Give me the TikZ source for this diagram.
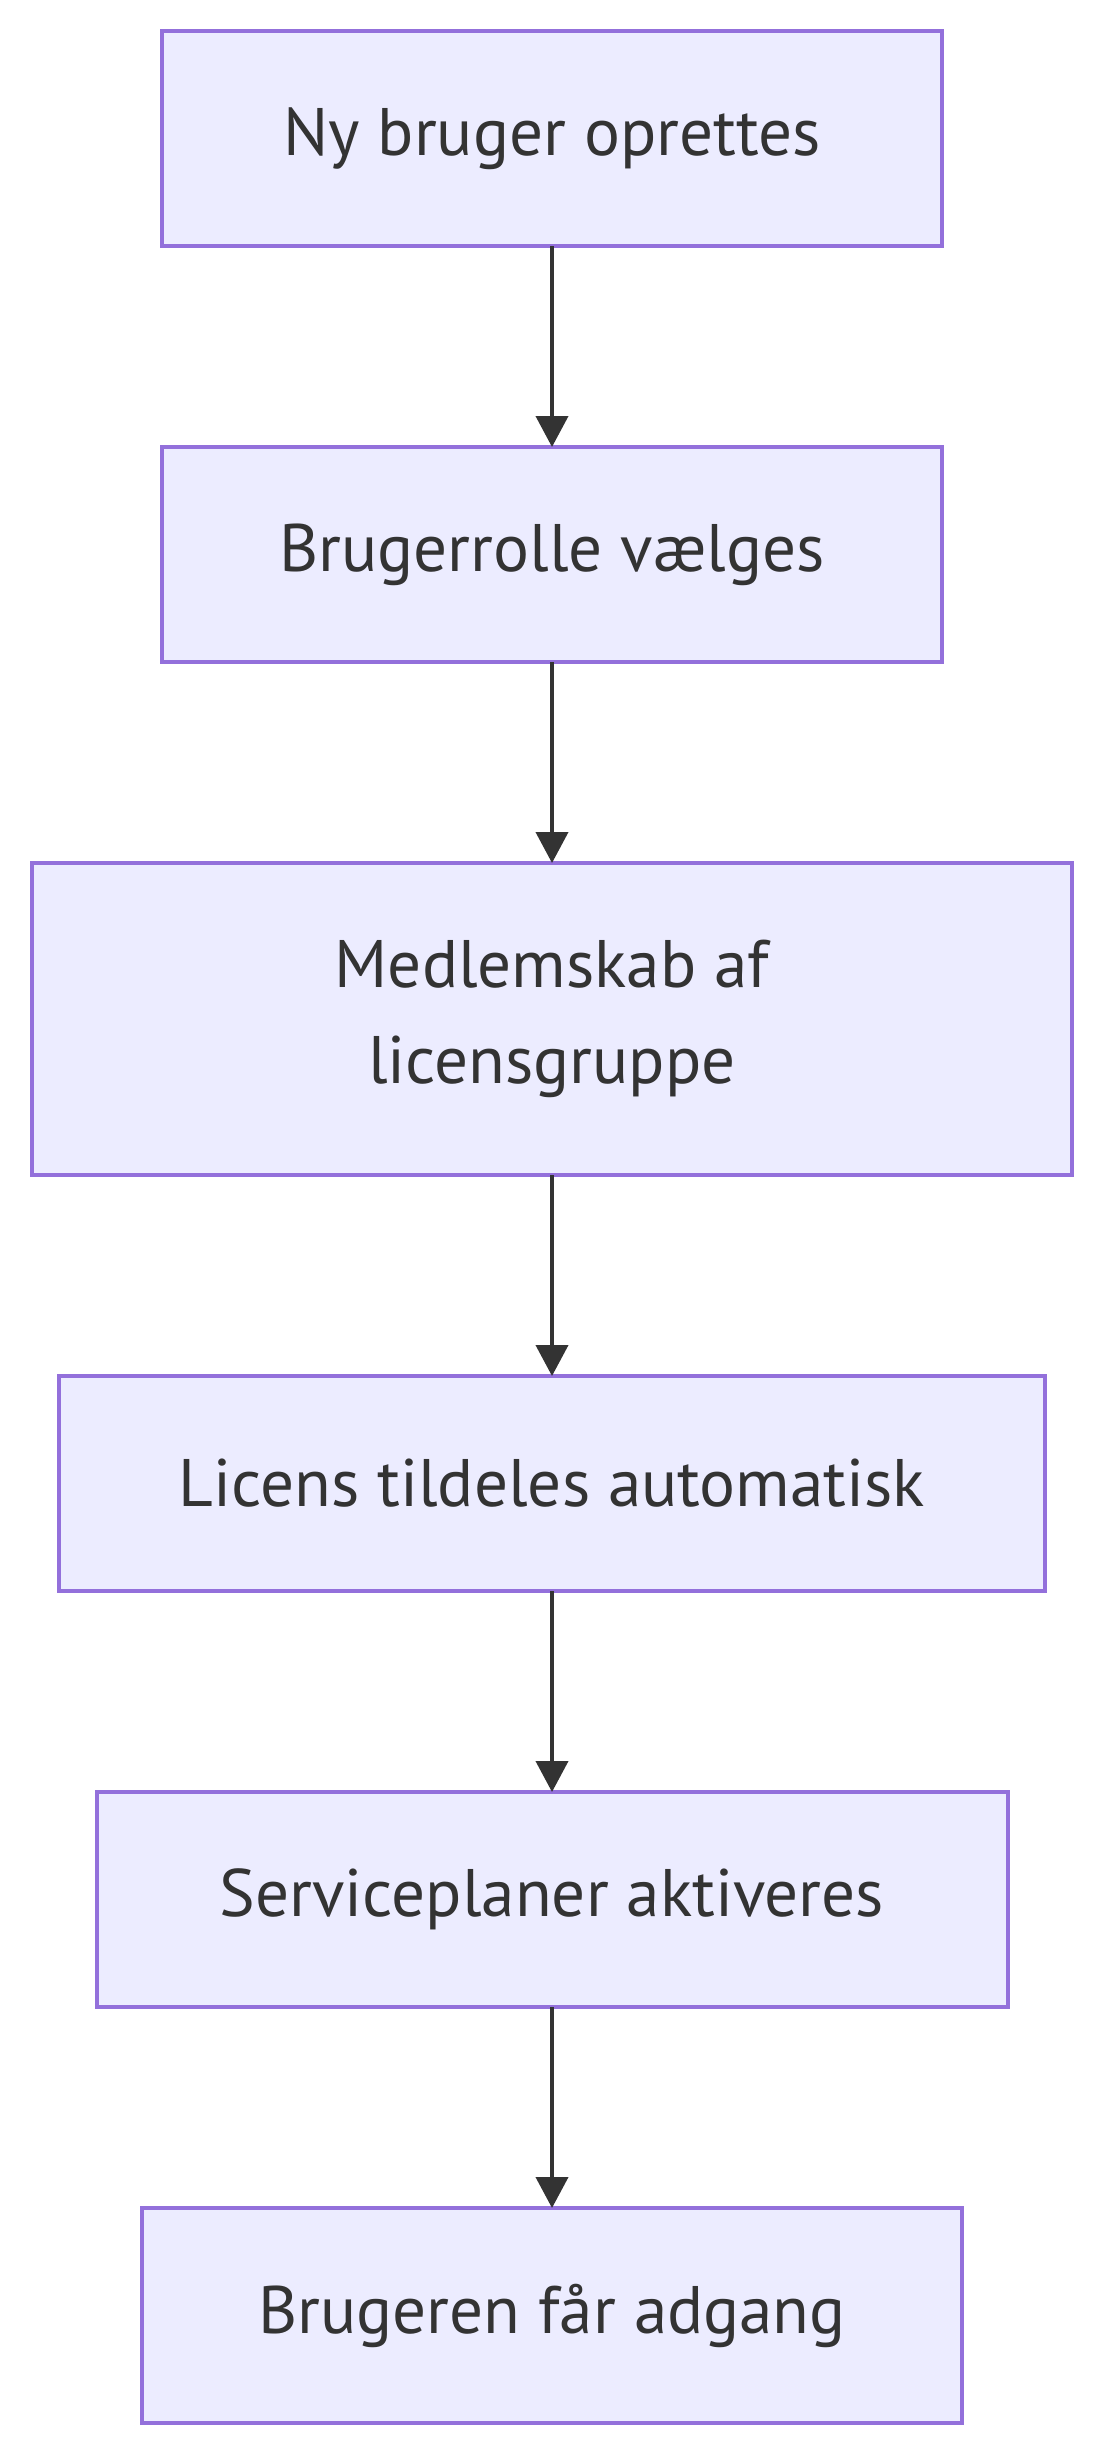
\documentclass[tikz,border=0pt]{standalone}
\usepackage{fontspec}
\setmainfont{PT Sans}
\usepackage{xcolor}
\usetikzlibrary{arrows.meta,positioning}
\definecolor{boxfill}{HTML}{ECECFF}
\definecolor{boxline}{HTML}{9370DB}
\definecolor{inkgray}{HTML}{333333}
\tikzset{
	stepbox/.style={
			draw=boxline, fill=boxfill, line width=1pt,
			text=inkgray, align=center, inner sep=0pt, outer sep=0pt,
			minimum height=53.75pt,
			font=\fontsize{16.8}{24}\selectfont
		},
	flow/.style={
			draw=inkgray, line width=1pt,
			-{Triangle[length=7.75pt,width=8pt]}
		}
}

\begin{document}
\begin{tikzpicture}[x=1pt,y=1pt,node distance=50.25pt]
		% Fix the page size
		\useasboundingbox (0,0) rectangle (276,-614);
		% Draw the steps
		\node[stepbox, minimum width=195pt, anchor=north] (ny) at (138,-7.75) {Ny bruger oprettes};
		\node[stepbox, minimum width=195pt, below=of ny] (rolle) {Brugerrolle vælges};
		\node[stepbox, minimum width=260pt, minimum height=78pt, below=of rolle] (gruppe) {Medlemskab af\\licensgruppe};
		\node[stepbox, minimum width=246.5pt, below=of gruppe] (licens) {Licens tildeles automatisk};
		\node[stepbox, minimum width=227.75pt, below=of licens] (planer) {Serviceplaner aktiveres};
		\node[stepbox, minimum width=205pt, below=of planer] (adgang) {Brugeren får adgang};
		% Draw the arrows
		\draw[flow] (ny) -- (rolle);
		\draw[flow] (rolle) -- (gruppe);
		\draw[flow] (gruppe) -- (licens);
		\draw[flow] (licens) -- (planer);
		\draw[flow] (planer) -- (adgang);
	\end{tikzpicture}
\end{document}
